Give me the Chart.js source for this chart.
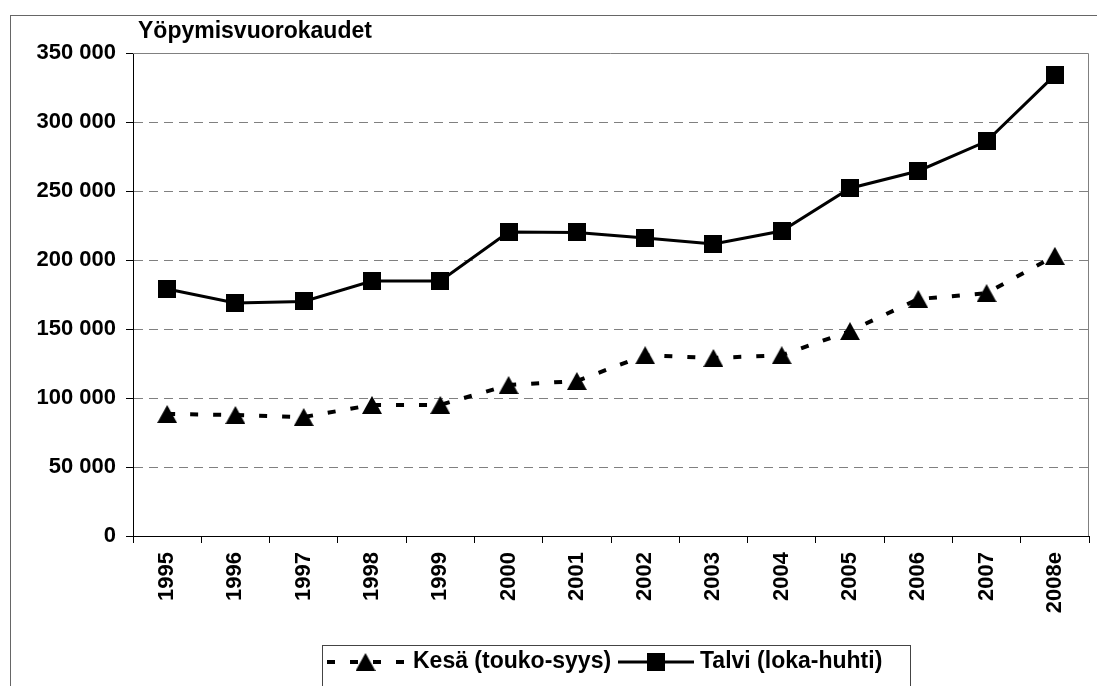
<!DOCTYPE html>
<html>
<head>
<meta charset="utf-8">
<script src="https://cdn.jsdelivr.net/npm/chart.js@4/dist/chart.umd.min.js"></script>
<style>
  html, body { margin: 0; padding: 0; background: #fff; }
  #chart { display: block; }
</style>
</head>
<body>
<canvas id="chart" width="1097" height="686"></canvas>
<script>
const years = ["1995", "1996", "1997", "1998", "1999", "2000", "2001", "2002", "2003", "2004", "2005", "2006", "2007", "2008e"];
const kesa = [88400, 87700, 86200, 95000, 95000, 109400, 112300, 131000, 129000, 131000, 148500, 171700, 176000, 203000];
const talvi = [179000, 168800, 170000, 184800, 184800, 220300, 220000, 216000, 211600, 221000, 252000, 264500, 286000, 334000];
const yTicks = [0, 50000, 100000, 150000, 200000, 250000, 300000, 350000];
const titleText = "Yöpymisvuorokaudet";
const kesaLabel = "Kesä (touko-syys)";
const talviLabel = "Talvi (loka-huhti)";

const FONT = '"Liberation Sans", Arial, sans-serif';

// marker images, drawn centred on each point
function squareMarker(size) {
  const c = document.createElement("canvas");
  c.width = size; c.height = size;
  const g = c.getContext("2d");
  g.fillStyle = "#000";
  g.fillRect(0, 0, size, size);
  return c;
}
function triangleMarker(w, h) {
  const c = document.createElement("canvas");
  c.width = w; c.height = h;
  const g = c.getContext("2d");
  g.fillStyle = "#000";
  g.beginPath();
  g.moveTo(w / 2, 0);
  g.lineTo(w, h);
  g.lineTo(0, h);
  g.closePath();
  g.fill();
  return c;
}
const sq = squareMarker(18);
const tri = triangleMarker(20, 18);

function fmt(v) {
  return String(v).replace(/\B(?=(\d{3})+(?!\d))/g, " ");
}

const decor = {
  id: "decor",
  afterDraw(chart) {
    const ctx = chart.ctx;
    const a = chart.chartArea;
    ctx.save();
    // outer frame
    ctx.strokeStyle = "#666";
    ctx.lineWidth = 1;
    ctx.strokeRect(10.5, 15.5, 1200, 800);
    // plot frame top / right
    ctx.strokeStyle = "#808080";
    ctx.beginPath();
    ctx.moveTo(a.left, a.top + 0.5);
    ctx.lineTo(a.right - 0.5, a.top + 0.5);
    ctx.lineTo(a.right - 0.5, a.bottom);
    ctx.stroke();
    // title
    ctx.fillStyle = "#000";
    ctx.font = "bold 23px " + FONT;
    ctx.textBaseline = "alphabetic";
    ctx.fillText(titleText, 138, 38);
    // legend box
    ctx.strokeStyle = "#444";
    ctx.strokeRect(322.5, 645.5, 588, 60);
    const ly = 662;
    const ds = chart.data.datasets;
    const items = [
      { d: ds[0], x1: 327, x2: 404, tx: 413 },
      { d: ds[1], x1: 618, x2: 694, tx: 700 }
    ];
    items.forEach(it => {
      ctx.strokeStyle = "#000";
      ctx.lineWidth = it.d.borderWidth;
      ctx.setLineDash(it.d.borderDash || []);
      ctx.beginPath();
      ctx.moveTo(it.x1, ly);
      ctx.lineTo(it.x2, ly);
      ctx.stroke();
      ctx.setLineDash([]);
      const img = it.d.pointStyle;
      const cx = (it.x1 + it.x2) / 2;
      ctx.drawImage(img, cx - img.width / 2, ly - img.height / 2);
      ctx.fillStyle = "#000";
      ctx.font = "bold 23px " + FONT;
      ctx.textBaseline = "middle";
      ctx.fillText(it.d.label, it.tx, ly);
    });
    ctx.restore();
  }
};

new Chart(document.getElementById("chart"), {
  type: "line",
  data: {
    labels: years,
    datasets: [
      {
        label: kesaLabel,
        data: kesa,
        borderColor: "#000",
        backgroundColor: "#000",
        borderWidth: 4,
        borderDash: [8, 15],
        pointStyle: tri,
        tension: 0
      },
      {
        label: talviLabel,
        data: talvi,
        borderColor: "#000",
        backgroundColor: "#000",
        borderWidth: 3,
        pointStyle: sq,
        tension: 0
      }
    ]
  },
  options: {
    responsive: false,
    animation: false,
    devicePixelRatio: 1,
    layout: { padding: { top: 53, right: 2, left: 0, bottom: 0 } },
    plugins: {
      legend: { display: false },
      tooltip: { enabled: false }
    },
    scales: {
      x: {
        offset: true,
        afterFit(scale) { scale.height = 150; },
        grid: {
          offset: true,
          drawOnChartArea: false,
          drawTicks: true,
          tickLength: 7,
          tickColor: "#000",
          tickWidth: 1
        },
        border: { color: "#000", width: 1 },
        ticks: {
          color: "#000",
          font: { family: FONT, size: 22, weight: "bold" },
          minRotation: 90,
          maxRotation: 90,
          autoSkip: false,
          padding: 9
        }
      },
      y: {
        min: 0,
        max: 350000,
        afterFit(scale) { scale.width = 133; },
        afterBuildTicks(scale) { scale.ticks = yTicks.map(v => ({ value: v })); },
        grid: {
          color: ctx => (ctx.tick && (ctx.tick.value === 0 || ctx.tick.value === 350000)) ? "rgba(0,0,0,0)" : "#808080",
          lineWidth: 1,
          tickLength: 7,
          tickColor: "#000",
          tickWidth: 1
        },
        border: { color: "#000", width: 1, dash: [9, 6] },
        ticks: {
          color: "#000",
          font: { family: FONT, size: 22, weight: "bold" },
          padding: 10,
          callback: v => fmt(v)
        }
      }
    }
  },
  plugins: [decor]
});
</script>
</body>
</html>
